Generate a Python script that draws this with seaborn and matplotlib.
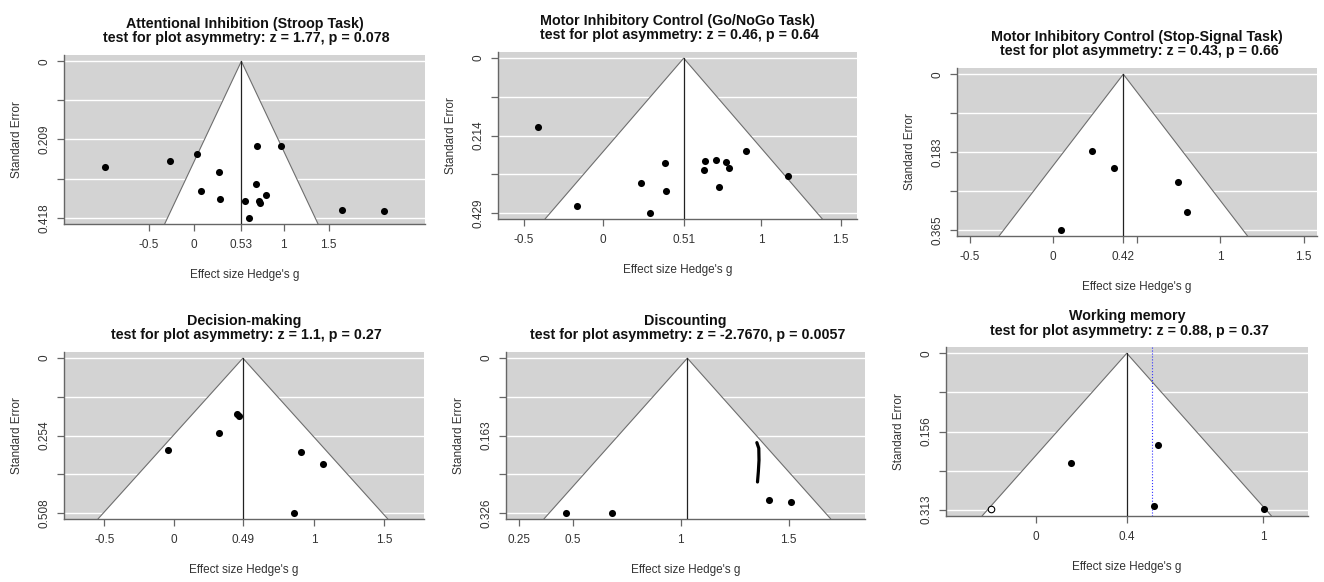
import seaborn as sns
import matplotlib.pyplot as plt
import numpy as np

# funnel plot data: effect size (Hedge's g) and standard error
titles = ["Attentional Inhibition (Stroop Task)\n test for plot asymmetry: z = 1.77, p = 0.078",
          "Motor Inhibitory Control (Go/NoGo Task)\n test for plot asymmetry: z = 0.46, p = 0.64",
          "Motor Inhibitory Control (Stop-Signal Task)\n test for plot asymmetry: z = 0.43, p = 0.66",
          "Decision-making\n test for plot asymmetry: z = 1.1, p = 0.27",
          "Discounting\n test for plot asymmetry: z = -2.7670, p = 0.0057",
          "Working memory\n test for plot asymmetry: z = 0.88, p = 0.37"]

stroop_g = [-0.985, -0.267, 0.041, 0.700, 0.967, 0.278, 0.692, 0.081, 0.807, 0.289, 0.567, 0.722, 0.733, 0.615, 1.652, 2.111]
stroop_se = [0.283, 0.267, 0.247, 0.227, 0.227, 0.296, 0.327, 0.346, 0.358, 0.369, 0.374, 0.372, 0.378, 0.418, 0.398, 0.400]

gonogo_g = [-0.406, -0.162, 0.242, 0.295, 0.392, 0.400, 0.642, 0.638, 0.716, 0.775, 0.798, 0.733, 0.903, 1.167]
gonogo_se = [0.190, 0.410, 0.346, 0.429, 0.290, 0.369, 0.286, 0.311, 0.283, 0.288, 0.306, 0.356, 0.258, 0.327]

stop_g = [0.234, 0.366, 0.746, 0.804, 0.046]
stop_se = [0.181, 0.220, 0.254, 0.324, 0.365]

decision_g = [-0.047, 0.319, 0.446, 0.464, 0.907, 1.062, 0.855]
decision_se = [0.302, 0.246, 0.185, 0.190, 0.309, 0.348, 0.508]

discount_g = [0.469, 0.679, 1.407, 1.509]
discount_se = [0.326, 0.326, 0.300, 0.304]
# hand-drawn stroke on the discounting panel
stroke_g = [1.352, 1.361, 1.362, 1.359, 1.355]
stroke_se = [0.178, 0.190, 0.215, 0.239, 0.261]

wm_g = [0.156, 0.538, 0.518, 1.003]
wm_se = [0.219, 0.184, 0.306, 0.3125]
wm_filled_g = [-0.199]
wm_filled_se = [0.3125]
wm_adjusted = 0.512

centers = [0.53, 0.51, 0.42, 0.49, 1.03, 0.40]
max_se = [0.418, 0.429, 0.365, 0.508, 0.326, 0.313]
se_labels = [["0", "", "0.209", "", "0.418"],
             ["0", "", "0.214", "", "0.429"],
             ["0", "", "0.183", "", "0.365"],
             ["0", "", "0.254", "", "0.508"],
             ["0", "", "0.163", "", "0.326"],
             ["0", "", "0.156", "", "0.313"]]
x_ticks = [[-0.5, 0, 0.53, 1, 1.5],
           [-0.5, 0, 0.51, 1, 1.5],
           [-0.5, 0, 0.42, 0.5, 1, 1.5],
           [-0.5, 0, 0.49, 1, 1.5],
           [0.25, 0.5, 1, 1.5],
           [0, 0.4, 1]]
x_tick_labels = [["-0.5", "0", "0.53", "1", "1.5"],
                 ["-0.5", "0", "0.51", "1", "1.5"],
                 ["-0.5", "0", "0.42", "", "1", "1.5"],
                 ["-0.5", "0", "0.49", "1", "1.5"],
                 ["0.25", "0.5", "1", "1.5"],
                 ["0", "0.4", "1"]]
x_limits = [(-1.44, 2.57), (-0.661, 1.603), (-0.576, 1.58),
            (-0.788, 1.784), (0.19, 1.853), (-0.397, 1.199)]

points = [(stroop_g, stroop_se), (gonogo_g, gonogo_se), (stop_g, stop_se),
          (decision_g, decision_se), (discount_g, discount_se), (wm_g, wm_se)]

# axes boxes in pixels: left, top, right, bottom
boxes = [(64, 55, 425, 224), (498, 52, 857, 219), (957, 68, 1317, 236),
         (64, 352, 424, 519), (506, 352, 865, 519), (946, 347, 1308, 516)]

sns.set_style("ticks")
plt.rcParams['font.family'] = ['Liberation Sans', 'DejaVu Sans']

W, H = 1324, 582
fig = plt.figure(figsize=(W / 100, H / 100), dpi=100)

for i in range(6):
    l, t, r, b = boxes[i]
    ax = fig.add_axes([l / W, 1 - b / H, (r - l) / W, (b - t) / H])
    ax.set_facecolor('#d3d3d3')
    m = max_se[i]
    ybot = m * 1.04
    ax.set_xlim(*x_limits[i])
    ax.set_ylim(ybot, -0.04 * m)

    se_ticks = np.linspace(0, m, 5)
    for s in se_ticks:
        ax.axhline(s, color='white', lw=1.0, zorder=1)

    c = centers[i]
    half = 1.96 * ybot
    ax.fill([c - half, c, c + half], [ybot, 0, ybot], color='white', zorder=2, lw=0)
    ax.plot([c - half, c, c + half], [ybot, 0, ybot], color='#6e6e6e', lw=0.8, zorder=3)
    ax.plot([c, c], [0, ybot], color='#222222', lw=0.9, zorder=3)

    g, se = points[i]
    sns.scatterplot(x=g, y=se, ax=ax, color='black', s=26, linewidth=0, zorder=5)

    if i == 4:
        ax.plot(stroke_g, stroke_se, color='black', lw=2.3, solid_capstyle='round', zorder=5)
    if i == 5:
        ax.axvline(wm_adjusted, color='#3333ff', lw=0.8, ls=':', zorder=4)
        sns.scatterplot(x=wm_filled_g, y=wm_filled_se, ax=ax, facecolor='white',
                        edgecolor='black', s=22, linewidth=0.8, zorder=5)

    ax.set_yticks(se_ticks)
    ax.set_yticklabels(se_labels[i], rotation=90, va='center')
    ax.set_xticks(x_ticks[i])
    ax.set_xticklabels(x_tick_labels[i])
    ax.tick_params(axis='both', colors='#666666', labelcolor='#333333', labelsize=8.5,
                   length=5, width=0.9)
    ax.tick_params(axis='x', pad=6)
    ax.tick_params(axis='y', pad=5)

    sns.despine(ax=ax)
    for sp in ['left', 'bottom']:
        ax.spines[sp].set_color('#666666')
        ax.spines[sp].set_linewidth(1.0)

    ax.set_xlabel("Effect size Hedge's g", fontsize=8.5, color='#333333', labelpad=13)
    ax.set_ylabel("Standard Error", fontsize=8.5, color='#333333', labelpad=11)
    ax.set_title(titles[i], fontsize=10.3, fontweight='bold', color='#111111', pad=9,
                 linespacing=1.05)

plt.savefig('out.png', dpi=100)
